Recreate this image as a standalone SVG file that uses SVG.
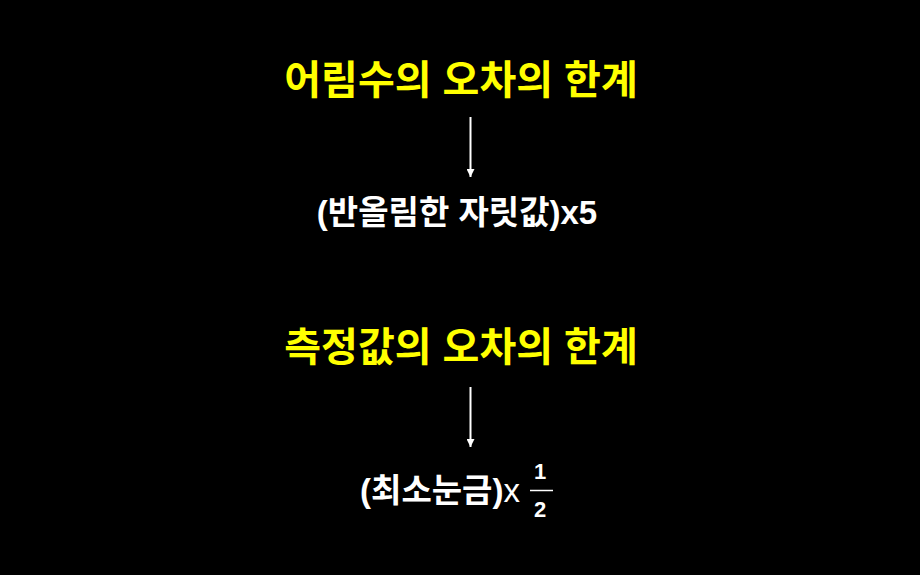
<svg xmlns="http://www.w3.org/2000/svg" width="920" height="575" viewBox="0 0 920 575">
<style>
.t{font-family:"Liberation Sans","Noto Sans CJK KR",sans-serif;font-weight:bold;text-anchor:middle}
.y{fill:#ffff00;font-size:40px}
.w{fill:#ffffff;font-size:33px}
.f{fill:#ffffff;font-size:22px}
.n{font-weight:normal}
.c{stroke:#ffffff;stroke-width:2;fill:none}
</style>
<defs>
<marker id="ah" viewBox="0 0 10 10" refX="10" refY="5" markerWidth="9" markerHeight="8" orient="auto" markerUnits="userSpaceOnUse">
<path d="M0,0 L10,5 L0,10 z" fill="#ffffff"/>
</marker>
</defs>
<rect width="920" height="575" fill="#000000"/>
<g id="n1"><text class="t y" x="461" y="94">어림수의 오차의 한계</text></g>
<g id="n2"><text class="t w" x="457" y="224">(반올림한 자릿값)x5</text></g>
<g id="n3"><text class="t y" x="461" y="361">측정값의 오차의 한계</text></g>
<g id="n4">
<text class="t w" x="440" y="502">(최소눈금)<tspan class="n">x</tspan></text>
<text class="t f" x="540" y="479">1</text>
<line x1="530" y1="490.5" x2="553" y2="490.5" stroke="#ffffff" stroke-width="1.5"/>
<text class="t f" x="540" y="517">2</text>
</g>
<g id="connectors">
<line class="c" x1="470.5" y1="117" x2="470.5" y2="177" marker-end="url(#ah)"/>
<line class="c" x1="470.5" y1="387" x2="470.5" y2="447" marker-end="url(#ah)"/>
</g>
</svg>
